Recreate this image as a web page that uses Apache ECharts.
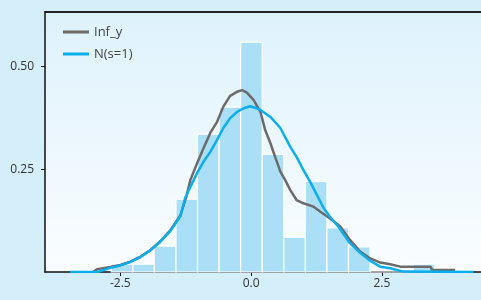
<!DOCTYPE html>
<html>
<head>
<meta charset="utf-8">
<script src="https://cdn.jsdelivr.net/npm/echarts@6/dist/echarts.min.js"></script>
<style>
html,body{margin:0;padding:0;background:#d4eefa;}
#c{width:481px;height:300px;}
</style>
</head>
<body>
<div id="c"></div>
<script>
// Histogram bins: left edges and densities
var binWidth = 0.4124;
var binLeft = [-2.673, -2.261, -1.848, -1.436, -1.024, -0.611, -0.199, 0.213, 0.626, 1.038, 1.450, 1.863, 2.275, 2.687, 3.099];
var binHeight = [0.019, 0.019, 0.063, 0.177, 0.335, 0.401, 0.559, 0.286, 0.084, 0.220, 0.107, 0.061, 0.0, 0.0, 0.019];

var infX = [-3.02,-2.94,-2.69,-2.50,-2.31,-2.12,-1.93,-1.74,-1.54,-1.35,-1.24,-1.16,-1.03,-0.91,-0.78,-0.65,-0.53,-0.40,-0.27,-0.17,-0.08,0.05,0.14,0.18,0.27,0.37,0.46,0.56,0.65,0.75,0.87,1.00,1.19,1.32,1.51,1.71,1.89,2.09,2.28,2.47,2.66,2.85,3.43,3.46,3.90];
var infY = [0.000,0.007,0.012,0.017,0.025,0.037,0.053,0.074,0.102,0.138,0.182,0.224,0.265,0.301,0.338,0.365,0.402,0.428,0.438,0.442,0.436,0.418,0.398,0.389,0.345,0.313,0.280,0.244,0.224,0.199,0.175,0.167,0.159,0.147,0.130,0.110,0.078,0.049,0.033,0.023,0.019,0.013,0.013,0.005,0.005];

var normX = [-3.46,-2.94,-2.69,-2.50,-2.31,-2.12,-1.93,-1.74,-1.54,-1.35,-1.26,-1.16,-1.03,-0.91,-0.78,-0.65,-0.53,-0.40,-0.27,-0.14,-0.02,0.11,0.18,0.37,0.56,0.75,0.87,1.00,1.13,1.26,1.39,1.51,1.67,1.89,2.09,2.28,2.47,2.66,2.91,4.25];
var normY = [0.000,0.000,0.010,0.016,0.024,0.036,0.052,0.073,0.100,0.136,0.180,0.207,0.241,0.268,0.292,0.321,0.350,0.374,0.389,0.398,0.403,0.398,0.394,0.377,0.350,0.304,0.280,0.248,0.219,0.187,0.155,0.134,0.110,0.070,0.046,0.027,0.013,0.009,0.001,0.000];

var xTicks = [-2.5, 0.0, 2.5];
var yTicks = [0.25, 0.50];

function zip(a, b){ return a.map(function(v,i){ return [v, b[i]]; }); }
var histData = binLeft.map(function(l,i){ return [l, l + binWidth, binHeight[i]]; });

var font = '"Open Sans", "Noto Sans", sans-serif';
var chart = echarts.init(document.getElementById('c'), null, {renderer:'canvas'});
chart.setOption({
  backgroundColor: '#d4eefa',
  animation: false,
  grid: {
    left: 45, top: 12, right: 0, bottom: 28,
    show: true,
    borderWidth: 0,
    backgroundColor: new echarts.graphic.LinearGradient(0,0,0,1,[
      {offset:0, color:'#def2fc'},
      {offset:1, color:'#fafdff'}
    ])
  },
  legend: {
    orient: 'vertical', left: 58, top: 20, itemGap: 8,
    itemWidth: 26, itemHeight: 3,
    textStyle: {fontFamily: font, fontSize: 13, color: '#444', lineHeight: 14},
    data: [
      {name:'Inf_y', icon:'rect', itemStyle:{color:'#6b6b6b'}},
      {name:'N(s=1)', icon:'rect', itemStyle:{color:'#0aaeea'}}
    ]
  },
  xAxis: [{
    type: 'value', min: -3.94, max: 4.396,
    axisLine: {show:true, onZero:false, lineStyle:{color:'#111', width:1.5}},
    axisTick: {show:true, length:4, customValues: xTicks, lineStyle:{color:'#111'}},
    axisLabel: {customValues: xTicks, fontFamily: font, fontSize: 12, color:'#333', margin: 6,
      formatter: function(v){ return v.toFixed(1); }},
    splitLine: {show:false}
  },{
    type: 'value', position: 'top', min: -3.94, max: 4.396,
    axisLine: {show:true, onZero:false, lineStyle:{color:'#222', width:2}},
    axisTick: {show:false}, axisLabel: {show:false}, splitLine:{show:false}
  }],
  yAxis: {
    type: 'value', min: 0, max: 0.632,
    axisLine: {show:true, onZero:false, lineStyle:{color:'#111', width:1.5}},
    axisTick: {show:true, length:4, customValues: yTicks, lineStyle:{color:'#111'}},
    axisLabel: {customValues: yTicks, fontFamily: font, fontSize: 12, color:'#333', margin: 11,
      formatter: function(v){ return v.toFixed(2); }},
    splitLine: {show:false}
  },
  series: [
    {
      type: 'custom', name: 'hist', silent: true,
      data: histData,
      encode: {x:[0,1], y:2},
      renderItem: function(params, api){
        var p0 = api.coord([api.value(0), api.value(2)]);
        var p1 = api.coord([api.value(1), 0]);
        return {
          type: 'rect',
          shape: {x: p0[0], y: p0[1], width: p1[0]-p0[0], height: p1[1]-p0[1]},
          style: {fill: '#aadff7', stroke: '#ffffff', lineWidth: 1.2}
        };
      }
    },
    {
      type: 'line', name: 'Inf_y', data: zip(infX, infY),
      showSymbol: false, smooth: false,
      lineStyle: {color:'#6b6b6b', width: 2.5},
      itemStyle: {color:'#6b6b6b'}
    },
    {
      type: 'line', name: 'N(s=1)', data: zip(normX, normY),
      showSymbol: false, smooth: false,
      lineStyle: {color:'#0aaeea', width: 2.5},
      itemStyle: {color:'#0aaeea'}
    }
  ]
});
</script>
</body>
</html>
